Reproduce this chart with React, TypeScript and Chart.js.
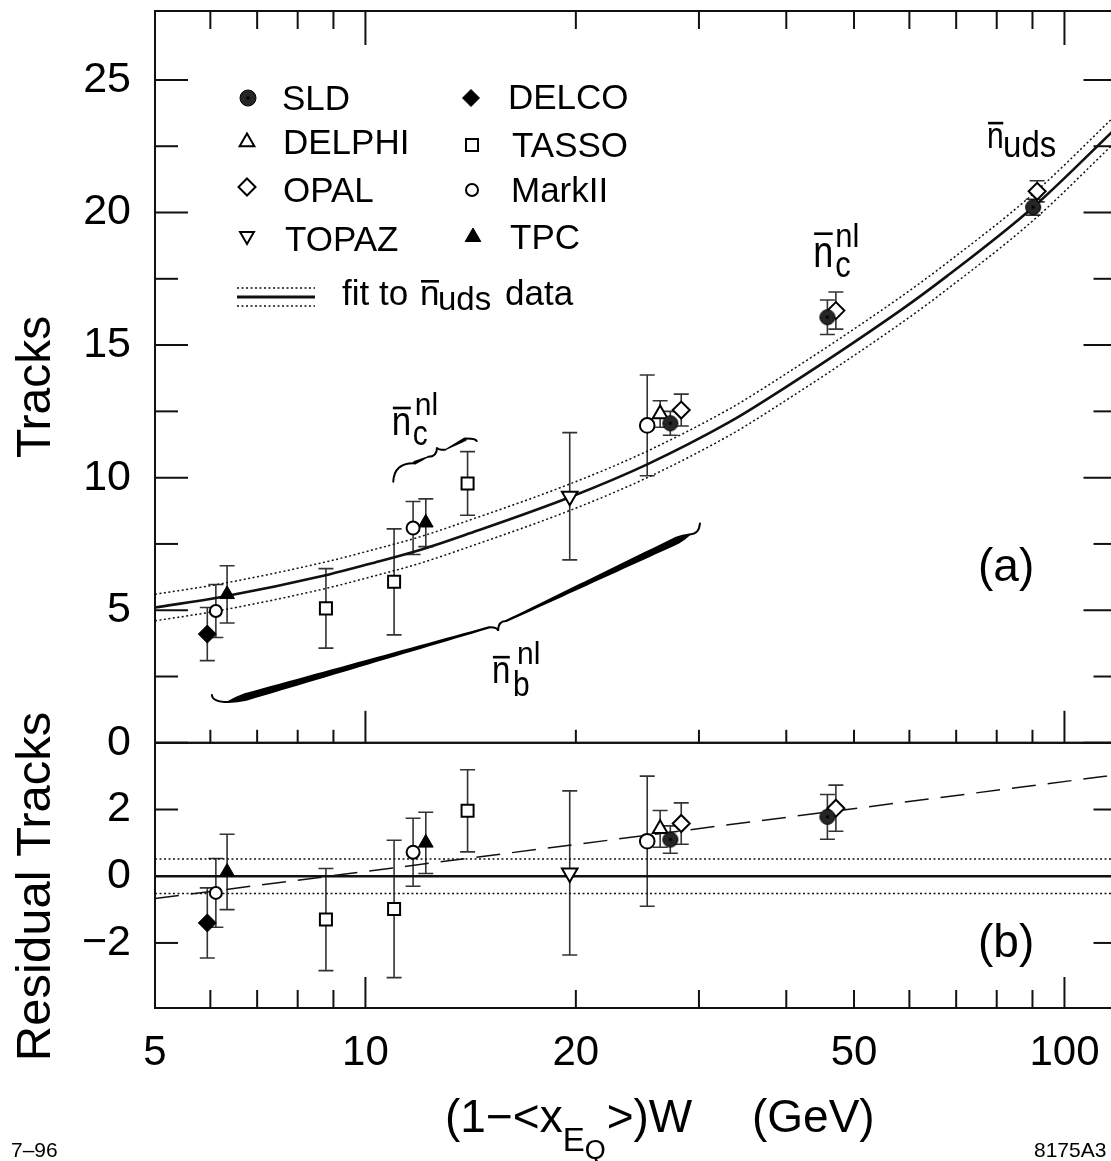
import React, { useEffect, useRef } from 'react';
import { Chart, registerables } from 'chart.js';

Chart.register(...registerables);

const FONT = '"Liberation Sans", Arimo, Arial, Helvetica, sans-serif';

// ---------- axes ----------
const X_MIN = 5;
const X_MAX = 118.7;
const X_TICK_LABELS = [5, 10, 20, 50, 100];
const X_MINOR_TICKS = [6, 7, 8, 9, 20, 30, 40, 50, 60, 70, 80, 90];
const X_MAJOR_TICKS = [10, 100];
const TOP_Y_MIN = 0;
const TOP_Y_MAX = 27.6;
const TOP_Y_TICKS = [0, 5, 10, 15, 20, 25];
const TOP_Y_MINOR = [2.5, 7.5, 12.5, 17.5, 22.5];
const RES_Y_MIN = -3.95;
const RES_Y_MAX = 4;
const RES_Y_TICKS = [-2, 0, 2];

// ---------- panel (a): mean multiplicities ----------
const SLD_X = [27.3, 45.8, 90.2];
const SLD_Y = [12.05, 16.05, 20.2];
const SLD_ERR = [0.45, 0.65, 0.3];
const OPAL_X = [28.3, 47.1, 91.4];
const OPAL_Y = [12.55, 16.3, 20.8];
const OPAL_ERR = [0.6, 0.7, 0.4];
const DELPHI_X = [26.4];
const DELPHI_Y = [12.4];
const DELPHI_ERR = [0.5];
const TOPAZ_X = [19.6];
const TOPAZ_Y = [9.3];
const TOPAZ_ERR = [2.4];
const DELCO_X = [5.94];
const DELCO_Y = [4.1];
const DELCO_ERR = [1.0];
const TASSO_X = [8.78, 10.99, 14.0];
const TASSO_Y = [5.07, 6.07, 9.78];
const TASSO_ERR = [1.5, 2.0, 1.2];
const MARKII_X = [6.11, 11.7, 25.3];
const MARKII_Y = [4.97, 8.1, 11.97];
const MARKII_ERR = [1.0, 1.0, 1.9];
const TPC_X = [6.34, 12.2];
const TPC_Y = [5.6, 8.3];
const TPC_ERR = [1.08, 0.9];

// fit to n_uds data and its band
const FIT_X = [5, 6.22, 8.87, 10.15, 11.9, 14.1, 19.6, 25.3, 33.2, 37.5, 58.2, 67.9, 90.2, 118.7];
const FIT_Y = [5.1, 5.5, 6.35, 6.75, 7.25, 7.9, 9.26, 10.5, 12.1, 12.95, 16.3, 17.6, 20.2, 23.2];
const FIT_UP = [5.6, 6.0, 6.85, 7.25, 7.75, 8.4, 9.76, 11.0, 12.6, 13.45, 16.8, 18.1, 20.7, 23.7];
const FIT_LO = [4.6, 5.0, 5.85, 6.25, 6.75, 7.4, 8.76, 10.0, 11.6, 12.45, 15.8, 17.1, 19.7, 22.7];

// ---------- panel (b): residuals ----------
const SLD_RES_X = [27.3, 45.8];
const SLD_RES = [1.1, 1.78];
const SLD_RES_ERR = [0.41, 0.67];
const OPAL_RES_X = [28.3, 47.1];
const OPAL_RES = [1.58, 2.04];
const OPAL_RES_ERR = [0.62, 0.69];
const DELPHI_RES_X = [26.4];
const DELPHI_RES = [1.42];
const DELPHI_RES_ERR = [0.55];
const TOPAZ_RES_X = [19.6];
const TOPAZ_RES = [0.1];
const TOPAZ_RES_ERR = [2.46];
const DELCO_RES_X = [5.94];
const DELCO_RES = [-1.4];
const DELCO_RES_ERR = [1.05];
const TASSO_RES_X = [8.78, 10.99, 14.0];
const TASSO_RES = [-1.3, -0.98, 1.96];
const TASSO_RES_ERR = [1.53, 2.06, 1.23];
const MARKII_RES_X = [6.11, 11.7, 25.3];
const MARKII_RES = [-0.5, 0.72, 1.05];
const MARKII_RES_ERR = [1.03, 1.02, 1.95];
const TPC_RES_X = [6.34, 12.2];
const TPC_RES = [0.13, 1.0];
const TPC_RES_ERR = [1.13, 0.92];

const RES_LINE_X = [5, 118.7];
const RES_ZERO = [0, 0];
const RES_BAND_UP = [0.52, 0.52];
const RES_BAND_LO = [-0.52, -0.52];
const RES_TREND = [-0.67, 3.04];

// ---------- annotations (data coordinates) ----------
const NB_BRACE_X = [6.03, 6.36, 15.07, 15.48, 15.89, 29.1, 30.1];
const NB_BRACE_Y = [1.8, 1.54, 4.36, 4.22, 4.59, 7.86, 8.27];
const NC_BRACE_X = [10.96, 11.71, 12.3, 12.66, 13.0, 13.96, 14.43];
const NC_BRACE_Y = [9.85, 10.54, 10.79, 11.15, 11.05, 11.48, 11.38];
const LABEL_NB = { x: 15.17, y: 2.26 };
const LABEL_NC_LOW = { x: 10.91, y: 11.62 };
const LABEL_NC_HIGH = { x: 43.7, y: 17.93 };
const LABEL_NUDS = { x: 77.5, y: 22.44 };

const LEGEND_NAMES = ['SLD', 'DELPHI', 'OPAL', 'TOPAZ', 'DELCO', 'TASSO', 'MarkII', 'TPC'];

type Kind = 'sld' | 'circle' | 'triangle' | 'triangleDown' | 'diamond' | 'square';

function markerPath(ctx: CanvasRenderingContext2D, kind: Kind, x: number, y: number, r: number) {
  ctx.beginPath();
  if (kind === 'circle' || kind === 'sld') {
    ctx.arc(x, y, r, 0, Math.PI * 2);
  } else if (kind === 'triangle') {
    ctx.moveTo(x, y - r);
    ctx.lineTo(x + r * 0.866, y + r * 0.5);
    ctx.lineTo(x - r * 0.866, y + r * 0.5);
    ctx.closePath();
  } else if (kind === 'triangleDown') {
    ctx.moveTo(x, y + r);
    ctx.lineTo(x + r * 0.866, y - r * 0.5);
    ctx.lineTo(x - r * 0.866, y - r * 0.5);
    ctx.closePath();
  } else if (kind === 'diamond') {
    ctx.moveTo(x, y - r);
    ctx.lineTo(x + r, y);
    ctx.lineTo(x, y + r);
    ctx.lineTo(x - r, y);
    ctx.closePath();
  } else {
    const h = r * 0.7071;
    ctx.rect(x - h, y - h, 2 * h, 2 * h);
  }
}

function drawMarker(ctx: CanvasRenderingContext2D, kind: Kind, x: number, y: number, r: number, filled: boolean) {
  ctx.save();
  markerPath(ctx, kind, x, y, r);
  ctx.fillStyle = kind === 'sld' ? '#262626' : filled ? '#000' : '#fff';
  ctx.fill();
  ctx.lineWidth = kind === 'sld' || filled ? 1 : 2;
  ctx.strokeStyle = '#000';
  ctx.stroke();
  if (kind === 'sld') {
    ctx.fillStyle = '#000';
    ctx.fillRect(x - 1.5, y - 1.5, 3, 3);
  }
  ctx.restore();
}

function makeSldImage(r: number) {
  const c = document.createElement('canvas');
  const s = Math.ceil(r * 2 + 3);
  c.width = s;
  c.height = s;
  const g = c.getContext('2d')!;
  drawMarker(g, 'sld', s / 2, s / 2, r, true);
  return c;
}

function pts(xs: number[], ys: number[]) {
  return xs.map((x, i) => ({ x, y: ys[i] }));
}

function markerDs(label: string, xs: number[], ys: number[], errs: number[], axis: string, style: any, r: number | number[], filled: boolean, rot = 0) {
  return {
    label,
    data: pts(xs, ys),
    errorBars: errs,
    yAxisID: axis,
    showLine: false,
    order: 0,
    pointStyle: style,
    pointRadius: r,
    pointHoverRadius: r,
    pointRotation: rot,
    pointBackgroundColor: filled ? '#000' : '#fff',
    pointBorderColor: '#000',
    pointBorderWidth: filled ? 1 : 2,
  };
}

function lineDs(xs: number[], ys: number[], axis: string, width: number, dash: number[]) {
  return {
    data: pts(xs, ys),
    yAxisID: axis,
    showLine: true,
    pointRadius: 0,
    pointHoverRadius: 0,
    borderColor: '#111',
    borderWidth: width,
    borderDash: dash,
    cubicInterpolationMode: 'monotone',
    fill: false,
    order: 1,
  };
}

function txt(ctx: CanvasRenderingContext2D, s: string, x: number, y: number, size: number, sy = 1) {
  ctx.save();
  ctx.translate(x, y);
  ctx.scale(1, sy);
  ctx.font = `${size}px ${FONT}`;
  ctx.textAlign = 'left';
  ctx.textBaseline = 'alphabetic';
  ctx.fillStyle = '#000';
  ctx.fillText(s, 0, 0);
  ctx.restore();
}

function textWidth(ctx: CanvasRenderingContext2D, s: string, size: number) {
  ctx.save();
  ctx.font = `${size}px ${FONT}`;
  const w = ctx.measureText(s).width;
  ctx.restore();
  return w;
}

function nbar(ctx: CanvasRenderingContext2D, x: number, y: number, size: number, sy: number, barDy: number) {
  txt(ctx, 'n', x, y, size, sy);
  const w = textWidth(ctx, 'n', size);
  ctx.fillStyle = '#000';
  ctx.fillRect(x + 1, y + barDy, w - 1.5, 2.6);
}

function taperedArm(ctx: CanvasRenderingContext2D, outer: { x: number; y: number }, inner: { x: number; y: number }, maxW: number) {
  const dx = inner.x - outer.x;
  const dy = inner.y - outer.y;
  const len = Math.hypot(dx, dy);
  const nx = -dy / len;
  const ny = dx / len;
  const N = 30;
  const left: [number, number][] = [];
  const right: [number, number][] = [];
  for (let i = 0; i <= N; i++) {
    const t = i / N;
    const w = maxW * (1 - 0.72 * t) * Math.min(1, t / 0.07 + 0.25);
    const px = outer.x + dx * t;
    const py = outer.y + dy * t;
    left.push([px + (nx * w) / 2, py + (ny * w) / 2]);
    right.push([px - (nx * w) / 2, py - (ny * w) / 2]);
  }
  ctx.beginPath();
  ctx.moveTo(left[0][0], left[0][1]);
  for (const p of left) ctx.lineTo(p[0], p[1]);
  for (let i = right.length - 1; i >= 0; i--) ctx.lineTo(right[i][0], right[i][1]);
  ctx.closePath();
  ctx.fill();
}

function drawBrace(ctx: CanvasRenderingContext2D, p: { x: number; y: number }[], maxW: number, thin: number) {
  ctx.save();
  ctx.fillStyle = '#000';
  ctx.strokeStyle = '#000';
  ctx.lineWidth = thin;
  ctx.lineCap = 'round';
  ctx.beginPath();
  ctx.moveTo(p[0].x, p[0].y);
  ctx.quadraticCurveTo(p[0].x + 1, p[1].y, p[1].x, p[1].y);
  ctx.stroke();
  ctx.beginPath();
  ctx.moveTo(p[2].x, p[2].y);
  ctx.quadraticCurveTo(p[3].x, p[2].y, p[3].x, p[3].y);
  ctx.quadraticCurveTo(p[3].x, p[4].y, p[4].x, p[4].y);
  ctx.stroke();
  ctx.beginPath();
  ctx.moveTo(p[6].x, p[6].y);
  ctx.quadraticCurveTo(p[6].x - 1, p[5].y, p[5].x, p[5].y);
  ctx.stroke();
  taperedArm(ctx, p[1], p[2], maxW);
  taperedArm(ctx, p[5], p[4], maxW);
  ctx.restore();
}

const errorBarPlugin = {
  id: 'errorBars',
  beforeDatasetsDraw(chart: any) {
    const ctx: CanvasRenderingContext2D = chart.ctx;
    const xs = chart.scales.x;
    ctx.save();
    ctx.strokeStyle = '#333';
    ctx.lineWidth = 1.6;
    chart.data.datasets.forEach((ds: any) => {
      if (!ds.errorBars) return;
      const ys = chart.scales[ds.yAxisID];
      ds.data.forEach((p: any, j: number) => {
        const e = ds.errorBars[j];
        const px = xs.getPixelForValue(p.x);
        const t = ys.getPixelForValue(p.y + e);
        const b = ys.getPixelForValue(p.y - e);
        ctx.beginPath();
        ctx.moveTo(px, t);
        ctx.lineTo(px, b);
        ctx.moveTo(px - 7.5, t);
        ctx.lineTo(px + 7.5, t);
        ctx.moveTo(px - 7.5, b);
        ctx.lineTo(px + 7.5, b);
        ctx.stroke();
      });
    });
    ctx.restore();
  },
};

const decorPlugin = {
  id: 'decor',
  afterDraw(chart: any) {
    const ctx: CanvasRenderingContext2D = chart.ctx;
    const xs = chart.scales.x;
    const yT = chart.scales.y;
    const yR = chart.scales.y2;
    const L = xs.left;
    const R = xs.right;
    const T = yT.top;
    const X = (v: number) => xs.getPixelForValue(v);
    ctx.save();
    ctx.strokeStyle = '#111';
    ctx.lineWidth = 2;
    ctx.lineCap = 'butt';
    const seg = (x1: number, y1: number, x2: number, y2: number) => {
      ctx.beginPath();
      ctx.moveTo(x1, y1);
      ctx.lineTo(x2, y2);
      ctx.stroke();
    };
    // frames
    ctx.strokeRect(L, yT.top, R - L, yT.bottom - yT.top);
    ctx.strokeRect(L, yR.top, R - L, yR.bottom - yR.top);
    // x ticks
    for (const v of X_MINOR_TICKS) {
      const p = X(v);
      seg(p, yT.top, p, yT.top + 18);
      seg(p, yT.bottom, p, yT.bottom - 13);
      seg(p, yR.bottom, p, yR.bottom - 18);
    }
    for (const v of X_MAJOR_TICKS) {
      const p = X(v);
      seg(p, yT.top, p, yT.top + 34);
      seg(p, yT.bottom, p, yT.bottom - 32);
      seg(p, yR.bottom, p, yR.bottom - 31);
    }
    // y ticks
    for (const v of TOP_Y_TICKS) {
      const p = yT.getPixelForValue(v);
      seg(L, p, L + 33, p);
      seg(R, p, R - 33, p);
    }
    for (const v of TOP_Y_MINOR) {
      const p = yT.getPixelForValue(v);
      seg(L, p, L + 23, p);
      seg(R, p, R - 23, p);
    }
    for (const v of RES_Y_TICKS) {
      if (v === 0) continue;
      const p = yR.getPixelForValue(v);
      seg(L, p, L + 23, p);
      seg(R, p, R - 23, p);
    }
    ctx.restore();

    // axis titles
    ctx.save();
    ctx.fillStyle = '#000';
    ctx.font = `48px ${FONT}`;
    ctx.textAlign = 'center';
    ctx.textBaseline = 'alphabetic';
    ctx.save();
    ctx.translate(L - 105, (yT.top + yT.bottom) / 2 + 10);
    ctx.rotate(-Math.PI / 2);
    ctx.fillText('Tracks', 0, 0);
    ctx.restore();
    ctx.save();
    ctx.translate(L - 105, (yR.top + yR.bottom) / 2 + 11);
    ctx.rotate(-Math.PI / 2);
    ctx.font = `49px ${FONT}`;
    ctx.fillText('Residual Tracks', 0, 0);
    ctx.restore();
    ctx.restore();

    // x title: (1-<x_EQ>)W   (GeV)
    const bx = 445;
    const by = yR.bottom + 124;
    txt(ctx, '(1\u2212<x', bx, by, 46);
    let cx = bx + textWidth(ctx, '(1\u2212<x', 46);
    txt(ctx, 'E', cx, by + 19, 33);
    cx += textWidth(ctx, 'E', 33);
    txt(ctx, 'Q', cx, by + 27, 27);
    cx += textWidth(ctx, 'Q', 27) + 1;
    txt(ctx, '>)W', cx, by, 46);
    txt(ctx, '(GeV)', 752, by, 46);

    // corner marks
    txt(ctx, '7\u201396', 11, yR.bottom + 149, 21);
    txt(ctx, '8175A3', 1034, yR.bottom + 149, 21);

    // panel labels
    txt(ctx, '(a)', R - 138.5, yT.bottom - 162, 46);
    txt(ctx, '(b)', R - 138.5, yR.bottom - 51, 46);

    // legend
    const ox = L - 155;
    const oy = T - 8;
    const leg: { kind: Kind; filled: boolean; r: number; mx: number; my: number; tx: number; ty: number }[] = [
      { kind: 'sld', filled: true, r: 8, mx: 248, my: 95, tx: 282, ty: 107 },
      { kind: 'triangle', filled: false, r: 8.5, mx: 247, my: 139, tx: 283, ty: 150.5 },
      { kind: 'diamond', filled: false, r: 8.5, mx: 247, my: 184, tx: 283, ty: 198.5 },
      { kind: 'triangleDown', filled: false, r: 8, mx: 247, my: 233, tx: 285, ty: 247.5 },
      { kind: 'diamond', filled: true, r: 8.5, mx: 471, my: 95, tx: 508, ty: 106 },
      { kind: 'square', filled: false, r: 8.5, mx: 472, my: 142, tx: 512, ty: 154 },
      { kind: 'circle', filled: false, r: 6, mx: 472, my: 187, tx: 511, ty: 199 },
      { kind: 'triangle', filled: true, r: 9, mx: 473, my: 234, tx: 510, ty: 246 },
    ];
    leg.forEach((e, i) => {
      drawMarker(ctx, e.kind, ox + e.mx, oy + e.my, e.r, e.filled);
      txt(ctx, LEGEND_NAMES[i], ox + e.tx, oy + e.ty, 35);
    });
    ctx.save();
    ctx.strokeStyle = '#111';
    ctx.lineWidth = 1.5;
    ctx.setLineDash([2, 2.5]);
    ctx.beginPath();
    ctx.moveTo(ox + 237, oy + 285);
    ctx.lineTo(ox + 315, oy + 285);
    ctx.moveTo(ox + 237, oy + 303);
    ctx.lineTo(ox + 315, oy + 303);
    ctx.stroke();
    ctx.setLineDash([]);
    ctx.lineWidth = 2.8;
    ctx.beginPath();
    ctx.moveTo(ox + 237, oy + 294);
    ctx.lineTo(ox + 315, oy + 294);
    ctx.stroke();
    ctx.restore();
    txt(ctx, 'fit to', ox + 342, oy + 302, 35);
    nbar(ctx, ox + 420, oy + 302, 35, 1, -25);
    txt(ctx, 'uds', ox + 438, oy + 307, 33);
    txt(ctx, 'data', ox + 505, oy + 302, 35);

    // braces
    const toPx = (xArr: number[], yArr: number[]) => xArr.map((x, i) => ({ x: X(x), y: yT.getPixelForValue(yArr[i]) }));
    drawBrace(ctx, toPx(NB_BRACE_X, NB_BRACE_Y), 8, 2);
    drawBrace(ctx, toPx(NC_BRACE_X, NC_BRACE_Y), 4, 2);

    // n labels
    const at = (p: { x: number; y: number }) => ({ x: X(p.x), y: yT.getPixelForValue(p.y) });
    let a = at(LABEL_NB);
    nbar(ctx, a.x, a.y, 33, 1.2, -27);
    txt(ctx, 'b', a.x + 21, a.y + 13, 30, 1.15);
    txt(ctx, 'nl', a.x + 25, a.y - 19, 30, 1.05);
    a = at(LABEL_NC_LOW);
    nbar(ctx, a.x, a.y, 35, 1.15, -28);
    txt(ctx, 'c', a.x + 21, a.y + 10, 30, 1.15);
    txt(ctx, 'nl', a.x + 23, a.y - 20, 30, 1.05);
    a = at(LABEL_NC_HIGH);
    nbar(ctx, a.x, a.y, 36, 1.25, -35);
    txt(ctx, 'c', a.x + 22, a.y + 10, 31, 1.2);
    txt(ctx, 'nl', a.x + 22, a.y - 20, 31, 1.05);
    a = at(LABEL_NUDS);
    nbar(ctx, a.x, a.y, 30, 1.2, -26);
    txt(ctx, 'uds', a.x + 16, a.y + 9, 33, 1.1);
  },
};

export default function App() {
  const ref = useRef<HTMLCanvasElement>(null);
  useEffect(() => {
    const canvas = ref.current;
    if (!canvas) return;
    const sld = makeSldImage(7.5);
    const datasets: any[] = [
      // panel (a) markers
      markerDs('SLD', SLD_X, SLD_Y, SLD_ERR, 'y', sld, 8, true),
      markerDs('DELPHI', DELPHI_X, DELPHI_Y, DELPHI_ERR, 'y', 'triangle', 8.5, false),
      markerDs('OPAL', OPAL_X, OPAL_Y, OPAL_ERR, 'y', 'rectRot', 8.5, false),
      markerDs('TOPAZ', TOPAZ_X, TOPAZ_Y, TOPAZ_ERR, 'y', 'triangle', 9, false, 180),
      markerDs('DELCO', DELCO_X, DELCO_Y, DELCO_ERR, 'y', 'rectRot', 9, true),
      markerDs('TASSO', TASSO_X, TASSO_Y, TASSO_ERR, 'y', 'rect', 8.5, false),
      markerDs('MarkII', MARKII_X, MARKII_Y, MARKII_ERR, 'y', 'circle', [6, 6.5, 7.3], false),
      markerDs('TPC', TPC_X, TPC_Y, TPC_ERR, 'y', 'triangle', 8.5, true),
      // panel (b) markers
      markerDs('SLD res', SLD_RES_X, SLD_RES, SLD_RES_ERR, 'y2', sld, 8, true),
      markerDs('DELPHI res', DELPHI_RES_X, DELPHI_RES, DELPHI_RES_ERR, 'y2', 'triangle', 8.5, false),
      markerDs('OPAL res', OPAL_RES_X, OPAL_RES, OPAL_RES_ERR, 'y2', 'rectRot', 8.5, false),
      markerDs('TOPAZ res', TOPAZ_RES_X, TOPAZ_RES, TOPAZ_RES_ERR, 'y2', 'triangle', 9, false, 180),
      markerDs('DELCO res', DELCO_RES_X, DELCO_RES, DELCO_RES_ERR, 'y2', 'rectRot', 9, true),
      markerDs('TASSO res', TASSO_RES_X, TASSO_RES, TASSO_RES_ERR, 'y2', 'rect', 8.5, false),
      markerDs('MarkII res', MARKII_RES_X, MARKII_RES, MARKII_RES_ERR, 'y2', 'circle', [6, 6.5, 7.3], false),
      markerDs('TPC res', TPC_RES_X, TPC_RES, TPC_RES_ERR, 'y2', 'triangle', 8.5, true),
      // fit curves
      lineDs(FIT_X, FIT_Y, 'y', 2.6, []),
      lineDs(FIT_X, FIT_UP, 'y', 1.5, [2, 2.5]),
      lineDs(FIT_X, FIT_LO, 'y', 1.5, [2, 2.5]),
      // residual lines
      lineDs(RES_LINE_X, RES_ZERO, 'y2', 2.4, []),
      lineDs(RES_LINE_X, RES_BAND_UP, 'y2', 1.5, [2, 2.5]),
      lineDs(RES_LINE_X, RES_BAND_LO, 'y2', 1.5, [2, 2.5]),
      lineDs(RES_LINE_X, RES_TREND, 'y2', 1.5, [24, 12]),
    ];
    const tickFont = { family: FONT, size: 43 };
    const chart = new Chart(canvas, {
      type: 'scatter',
      data: { datasets },
      options: {
        responsive: false,
        animation: false,
        devicePixelRatio: 1,
        events: [],
        layout: { padding: { left: 0, right: 13.5, top: 8, bottom: 0 } },
        plugins: { legend: { display: false }, tooltip: { enabled: false }, title: { display: false } },
        scales: {
          x: {
            type: 'logarithmic',
            position: 'bottom',
            min: X_MIN,
            max: X_MAX,
            afterBuildTicks: (s: any) => {
              s.ticks = X_TICK_LABELS.map((v) => ({ value: v }));
            },
            afterFit: (s: any) => {
              s.height = 153;
              s.paddingLeft = 0;
              s.paddingRight = 0;
            },
            ticks: {
              autoSkip: false,
              maxRotation: 0,
              minRotation: 0,
              padding: 20,
              color: '#000',
              font: { family: FONT, size: 42 },
              callback: (v: any) => String(v),
            },
            grid: { display: false, drawTicks: false },
            border: { display: false },
          },
          // residual panel declared first so that it is stacked below the main panel
          y2: {
            type: 'linear',
            position: 'left',
            stack: 'panels',
            stackWeight: 266,
            min: RES_Y_MIN,
            max: RES_Y_MAX,
            afterBuildTicks: (s: any) => {
              s.ticks = RES_Y_TICKS.map((v) => ({ value: v }));
            },
            afterFit: (s: any) => {
              s.width = 155;
              s.paddingTop = 0;
              s.paddingBottom = 0;
            },
            ticks: {
              autoSkip: false,
              padding: 24,
              color: '#000',
              font: tickFont,
              callback: (v: any) => (v < 0 ? '\u2212' + Math.abs(v) : String(v)),
            },
            grid: { display: false, drawTicks: false },
            border: { display: false },
          },
          y: {
            type: 'linear',
            position: 'left',
            stack: 'panels',
            stackWeight: 734,
            min: TOP_Y_MIN,
            max: TOP_Y_MAX,
            afterBuildTicks: (s: any) => {
              s.ticks = TOP_Y_TICKS.map((v) => ({ value: v }));
            },
            afterFit: (s: any) => {
              s.width = 155;
              s.paddingTop = 0;
              s.paddingBottom = 0;
            },
            ticks: { autoSkip: false, padding: 24, color: '#000', font: tickFont, callback: (v: any) => String(v) },
            grid: { display: false, drawTicks: false },
            border: { display: false },
          },
        },
      } as any,
      plugins: [errorBarPlugin, decorPlugin],
    });
    return () => chart.destroy();
  }, []);
  return (
    <div style={{ position: 'fixed', left: 0, top: 0, width: 1111, height: 1161, overflow: 'hidden', background: '#fff' }}>
      <canvas ref={ref} width={1130} height={1161} style={{ display: 'block' }} />
    </div>
  );
}
